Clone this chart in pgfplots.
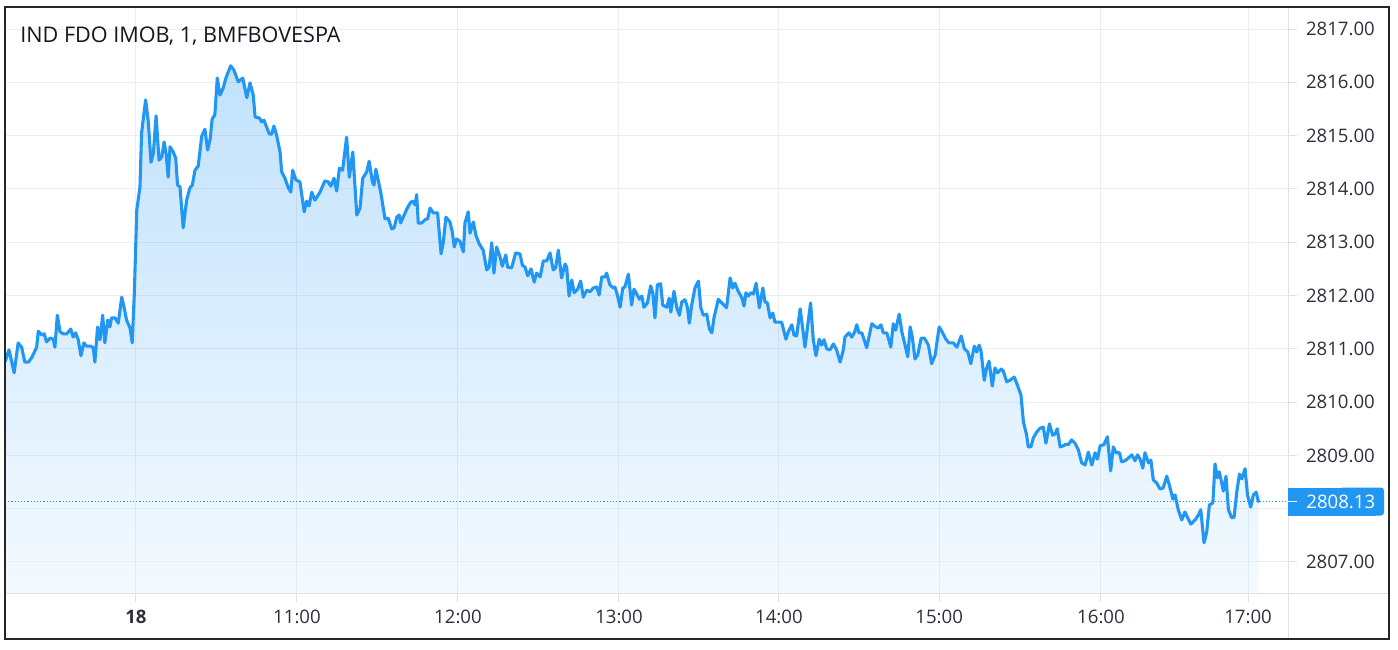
\documentclass[border=0pt]{standalone}
\usepackage{pgfplots}
\usepackage{pgfplotstable}
\pgfplotsset{compat=1.18}
\usepackage{fontspec}
\setmainfont{Open Sans}
\definecolor{tvblue}{RGB}{33,150,243}
\definecolor{gridc}{RGB}{236,237,241}
\definecolor{sepc}{RGB}{222,225,232}
\definecolor{txt}{RGB}{45,48,58}
\definecolor{titlec}{RGB}{19,23,34}
\pgfplotstableread{
t p
-48.8 2810.76
-47.3 2810.98
-45.4 2810.55
-43.9 2811.11
-42.6 2811.03
-41.4 2810.75
-40.1 2810.75
-38.9 2810.83
-37.0 2811.03
-36.4 2811.33
-35.1 2811.26
-34.2 2811.28
-33.3 2811.13
-32.0 2811.20
-30.8 2811.18
-30.2 2811.03
-29.3 2811.63
-28.3 2811.32
-27.1 2811.28
-25.8 2811.28
-24.3 2811.37
-23.4 2811.22
-22.5 2811.30
-21.5 2811.17
-20.5 2810.87
-19.4 2811.11
-18.4 2811.05
-16.8 2811.05
-15.9 2811.02
-15.3 2810.75
-14.3 2811.41
-13.4 2811.17
-12.4 2811.63
-11.6 2811.11
-10.5 2811.54
-9.7 2811.41
-9.1 2811.58
-7.8 2811.58
-6.6 2811.48
-5.3 2811.97
-4.4 2811.77
-3.5 2811.54
-2.2 2811.39
-1.4 2811.11
-0.6 2812.05
0.3 2813.60
1.5 2814.04
2.1 2815.05
3.6 2815.67
4.6 2815.26
5.6 2814.50
6.5 2814.67
7.5 2815.37
8.6 2814.54
9.6 2814.60
10.5 2814.88
11.3 2814.64
12.0 2814.22
12.7 2814.79
13.9 2814.69
14.8 2814.58
15.5 2814.07
16.4 2814.04
17.6 2813.27
18.9 2813.79
20.1 2814.02
21.0 2814.07
22.0 2814.35
23.2 2814.43
24.5 2814.99
25.7 2815.12
26.7 2814.73
27.6 2814.92
28.4 2815.31
29.4 2815.39
30.3 2816.08
31.3 2815.76
32.5 2815.89
33.5 2816.08
35.3 2816.31
36.5 2816.23
38.1 2816.01
39.8 2816.08
41.3 2815.71
42.5 2815.99
43.7 2815.76
44.4 2815.35
46.0 2815.33
46.8 2815.26
47.7 2815.29
48.7 2815.16
49.7 2815.03
50.6 2815.03
51.4 2815.18
52.4 2815.01
53.7 2814.69
54.3 2814.32
55.5 2814.20
56.8 2814.02
57.7 2813.94
58.4 2814.35
59.6 2814.17
61.1 2814.13
62.7 2813.57
63.6 2813.77
64.5 2813.68
65.5 2813.94
66.7 2813.79
68.6 2813.94
70.4 2814.15
71.7 2814.13
72.6 2814.05
73.8 2814.20
74.8 2813.96
75.8 2814.39
77.0 2814.35
78.5 2814.97
79.5 2814.22
80.8 2814.69
82.3 2813.51
83.5 2813.64
84.5 2814.20
86.0 2814.32
86.9 2814.52
88.1 2814.13
88.7 2814.07
89.4 2814.37
91.2 2813.94
92.8 2813.44
94.0 2813.45
95.3 2813.25
96.2 2813.27
97.2 2813.47
98.1 2813.51
98.6 2813.36
99.6 2813.47
101.1 2813.64
102.4 2813.75
103.3 2813.77
104.0 2813.70
104.6 2813.89
105.2 2813.36
106.5 2813.36
107.7 2813.42
108.7 2813.44
109.6 2813.64
110.8 2813.55
112.4 2813.55
113.7 2812.78
114.5 2812.99
115.5 2813.47
117.0 2813.38
117.9 2813.19
118.6 2812.91
119.5 2813.06
120.7 2813.02
122.0 2812.82
122.6 2813.36
123.8 2813.57
124.5 2813.17
125.7 2813.38
126.7 2813.13
127.9 2812.97
129.4 2812.85
130.7 2812.48
131.6 2812.53
132.6 2812.99
133.4 2812.42
134.4 2812.91
135.7 2812.72
136.5 2812.55
137.8 2812.76
138.5 2812.53
140.0 2812.52
141.5 2812.80
143.1 2812.78
144.0 2812.57
145.0 2812.53
146.0 2812.37
147.2 2812.50
148.4 2812.25
149.3 2812.42
150.6 2812.35
151.8 2812.65
153.1 2812.65
154.3 2812.80
155.5 2812.48
156.4 2812.52
157.4 2812.85
158.6 2812.33
159.9 2812.59
160.5 2812.53
161.4 2811.99
162.4 2812.29
163.3 2812.05
164.6 2812.12
165.7 2812.27
166.7 2811.97
168.0 2812.10
169.2 2812.07
170.4 2812.14
171.7 2812.16
172.6 2812.01
173.6 2812.35
174.8 2812.35
175.4 2812.42
176.6 2812.20
177.9 2812.14
178.5 2812.16
179.5 2811.99
180.4 2811.78
181.4 2812.14
182.2 2812.16
183.5 2812.40
184.7 2811.82
185.6 2812.12
186.8 2812.01
187.6 2811.93
188.5 2811.99
189.3 2811.78
190.6 2811.86
191.8 2812.18
192.6 2812.05
193.4 2811.58
194.3 2812.20
195.5 2812.22
196.3 2811.82
197.8 2811.78
198.7 2811.95
199.3 2811.69
200.5 2812.08
201.5 2811.78
202.5 2811.63
203.4 2811.88
204.6 2811.92
205.5 2811.78
206.2 2811.48
207.1 2811.82
208.3 2812.14
209.6 2812.27
210.5 2811.77
211.4 2811.63
212.7 2811.65
213.7 2811.37
214.6 2811.30
215.4 2811.58
217.0 2811.93
218.3 2811.86
220.1 2811.77
221.4 2812.33
222.4 2812.14
223.2 2812.23
224.5 2812.07
225.7 2811.97
226.6 2811.80
227.3 2812.05
228.2 2811.99
229.1 2812.05
230.1 2812.03
231.1 2812.23
232.3 2811.77
233.6 2812.14
234.4 2811.88
235.3 2811.86
236.3 2811.58
237.3 2811.67
238.1 2811.50
240.6 2811.50
242.2 2811.18
243.1 2811.32
244.4 2811.45
245.2 2811.26
246.2 2811.24
247.5 2811.75
248.5 2811.37
249.3 2811.03
250.2 2811.39
251.4 2811.86
252.4 2811.17
253.4 2810.87
254.6 2811.18
255.5 2811.07
256.4 2811.17
257.4 2811.00
258.6 2810.98
259.9 2811.09
261.1 2810.98
262.4 2810.75
263.6 2810.98
264.2 2811.22
265.7 2811.30
266.7 2811.22
267.7 2811.30
268.6 2811.45
269.4 2811.30
270.5 2811.30
272.3 2811.02
274.2 2811.47
275.7 2811.41
276.6 2811.39
277.6 2811.45
278.5 2811.30
279.8 2811.30
281.3 2811.03
282.2 2811.47
283.1 2811.35
284.4 2811.65
285.4 2811.32
286.6 2811.07
287.6 2810.85
288.5 2811.41
289.3 2811.22
290.3 2810.81
291.3 2810.88
292.6 2811.20
293.8 2811.20
295.3 2811.07
296.5 2810.72
297.8 2810.88
299.3 2811.41
300.3 2811.33
301.8 2811.18
303.0 2811.11
304.6 2811.11
305.9 2811.03
307.5 2811.24
308.7 2811.00
310.0 2810.94
311.1 2810.72
312.4 2811.05
313.3 2810.94
314.2 2811.07
314.9 2810.96
316.1 2810.41
317.0 2810.64
317.9 2810.77
319.1 2810.30
320.1 2810.64
321.1 2810.55
322.4 2810.62
323.2 2810.58
324.5 2810.38
325.7 2810.41
327.3 2810.47
328.6 2810.30
329.8 2810.13
330.7 2809.63
331.9 2809.38
332.5 2809.16
333.5 2809.16
334.4 2809.33
335.7 2809.44
336.9 2809.51
338.1 2809.53
339.1 2809.23
340.4 2809.59
341.6 2809.38
342.5 2809.40
343.3 2809.50
344.4 2809.16
345.6 2809.18
346.6 2809.21
347.4 2809.20
348.7 2809.29
349.9 2809.23
351.2 2809.10
352.4 2808.86
353.7 2808.82
354.9 2809.06
356.2 2808.82
357.4 2809.05
358.3 2808.93
359.3 2809.18
360.7 2809.20
362.0 2809.35
363.2 2808.71
364.2 2809.16
365.2 2809.05
366.5 2809.05
367.3 2808.88
368.6 2808.90
369.8 2808.95
371.1 2809.01
372.3 2808.90
373.2 2809.01
374.2 2808.93
375.2 2808.76
376.0 2809.05
377.3 2808.86
378.2 2808.91
379.1 2808.54
380.4 2808.48
381.6 2808.37
382.8 2808.39
384.1 2808.61
385.1 2808.44
386.4 2808.18
387.2 2808.26
388.4 2807.98
389.7 2807.79
390.9 2807.94
391.8 2807.84
393.1 2807.71
394.7 2807.79
395.9 2807.88
396.8 2807.98
398.0 2807.36
399.0 2807.56
400.0 2808.07
401.3 2808.11
402.1 2808.84
403.0 2808.58
403.7 2808.69
404.6 2808.48
405.2 2808.33
406.2 2808.61
407.1 2807.98
408.3 2807.83
409.2 2807.84
410.2 2808.31
411.2 2808.65
412.1 2808.56
413.3 2808.75
414.2 2808.26
415.4 2808.03
416.4 2808.26
417.4 2808.31
418.3 2808.13
}\pricedata

\begin{document}
\begin{tikzpicture}[x=1pt,y=1pt]
\useasboundingbox (0,0) rectangle (699,324.5);
\begin{axis}[
  at={(2.5pt,28pt)}, anchor=south west,
  scale only axis, width=641.5pt, height=293pt,
  xmin=-48.8, xmax=429.3, ymin=2806.418, ymax=2817.413,
  axis line style={draw=none},
  grid=major, grid style={gridc, line width=0.5pt},
  xtick={0,60,120,180,239.6,299.3,359.6,414.4},
  xticklabels={\textbf{18},11:00,12:00,13:00,14:00,15:00,16:00,17:00},
  ytick={2807,2808,...,2817},
  yticklabels={2807.00,{},2809.00,2810.00,2811.00,2812.00,2813.00,2814.00,2815.00,2816.00,2817.00},
  xtick pos=bottom, ytick pos=right,
  tick align=outside, major tick length=4.3pt,
  tick style={sepc, line width=0.5pt},
  ticklabel style={font=\fontsize{9.3}{11}\selectfont, text=txt},
  yticklabel style={anchor=west, inner sep=0pt, xshift=4.5pt},
  xticklabel style={anchor=base, inner sep=0pt, yshift=-11pt},
]
\addplot[draw=none, top color=tvblue, bottom color=tvblue!18!white, fill opacity=0.28]
  table[x=t,y=p] {\pricedata} -- (axis cs:418.3,2806.418) -- (axis cs:-48.8,2806.418) -- cycle;
\addplot[tvblue, line width=0.5pt, dash pattern=on 0.6pt off 1pt] coordinates {(-48.8,2808.13) (429.3,2808.13)};
\addplot[tvblue, line width=1.55pt, line join=round, line cap=round] table[x=t,y=p] {\pricedata};
\end{axis}
\draw[sepc, line width=0.5pt] (644,5) -- (644,321);
\draw[sepc, line width=0.5pt] (2.5,28) -- (694.5,28);
\fill[tvblue] (644,66.75) rectangle (688,80.75);
\fill[tvblue, rounded corners=1.5pt] (670,66.75) rectangle (692,80.75);
\draw[white, line width=0.5pt] (644,73.75) -- (648.3,73.75);
\node[anchor=west, inner sep=0pt, text=white, font=\fontsize{9.3}{11}\selectfont] at (653,73.75) {2808.13};
\node[anchor=base west, inner sep=0pt, text=titlec, font=\fontsize{10.8}{12}\selectfont] at (10,303) {IND FDO IMOB, 1, BMFBOVESPA};
\draw[black!85, line width=0.8pt] (2.5,5) rectangle (694.5,321);
\end{tikzpicture}
\end{document}
